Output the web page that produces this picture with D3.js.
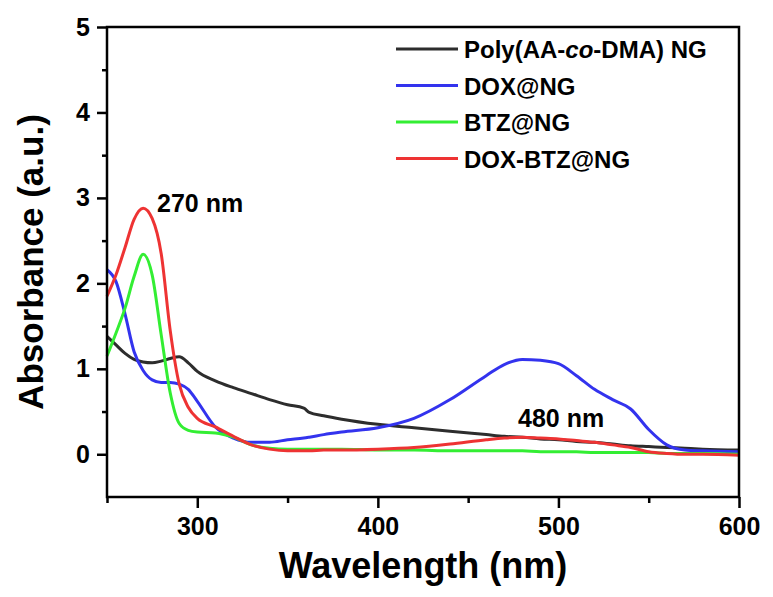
<!DOCTYPE html>
<html>
<head>
<meta charset="utf-8">
<script src="https://cdn.jsdelivr.net/npm/d3@7"></script>
<style>
  body { margin: 0; background: #fff; }
  text { font-family: Arial, "Liberation Sans", sans-serif; font-weight: bold; fill: #000; }
</style>
</head>
<body>
<svg id="chart" width="773" height="597"></svg>
<script>
// wavelength grid (nm) shared by all spectra
var wavelength = [250, 255, 260, 265, 270, 275, 280, 285, 290, 295, 300, 310, 320, 330, 340, 350, 359, 362,
  370, 380, 400, 420, 440, 460, 470, 480, 490, 500, 510, 520, 530, 540, 550, 560, 570, 580, 600];

var polyNG = [1.38, 1.28, 1.18, 1.11, 1.08, 1.07, 1.09, 1.12, 1.14, 1.07, 0.97, 0.86, 0.78, 0.71, 0.64, 0.58, 0.54, 0.49,
  0.45, 0.41, 0.35, 0.31, 0.27, 0.23, 0.21, 0.20, 0.18, 0.17, 0.15, 0.14, 0.12, 0.10, 0.09, 0.08, 0.07, 0.06, 0.05];
var doxNG = [2.16, 2.02, 1.64, 1.2, 0.98, 0.87, 0.84, 0.84, 0.82, 0.76, 0.62, 0.32, 0.19, 0.14, 0.14, 0.17, 0.19, 0.2,
  0.23, 0.26, 0.31, 0.42, 0.64, 0.92, 1.05, 1.11, 1.1, 1.06, 0.92, 0.76, 0.64, 0.53, 0.29, 0.11, 0.05, 0.04, 0.03];
var btzNG = [1.15, 1.42, 1.71, 2.08, 2.34, 2.1, 1.4, 0.72, 0.36, 0.28, 0.26, 0.25, 0.2, 0.11, 0.07, 0.06, 0.06, 0.06,
  0.06, 0.06, 0.05, 0.05, 0.04, 0.04, 0.04, 0.04, 0.03, 0.03, 0.03, 0.02, 0.02, 0.02, 0.02, 0.01, 0.01, 0.01, 0.0];
var doxBtzNG = [1.85, 2.1, 2.42, 2.75, 2.88, 2.76, 2.35, 1.45, 0.82, 0.55, 0.42, 0.32, 0.21, 0.11, 0.06, 0.04, 0.04, 0.04,
  0.05, 0.05, 0.06, 0.08, 0.12, 0.17, 0.19, 0.2, 0.19, 0.18, 0.16, 0.14, 0.11, 0.08, 0.03, 0.01, 0.0, 0.0, -0.01];

var seriesNames = ['Poly(AA-co-DMA) NG', 'DOX@NG', 'BTZ@NG', 'DOX-BTZ@NG'];
var seriesColors = ['#2d2d2d', '#3333ee', '#33ee33', '#ee3333'];
var seriesValues = [polyNG, doxNG, btzNG, doxBtzNG];

var xTicks = [300, 400, 500, 600];
var yTicks = [0, 1, 2, 3, 4, 5];

var svg = d3.select('#chart');

var xScale = d3.scaleLinear().domain([250, 600]).range([107, 739]);
var yScale = d3.scaleLinear().domain([-0.5, 5]).range([497, 27]);

// spectra
var line = d3.line()
  .x(d => xScale(d[0]))
  .y(d => yScale(d[1]))
  .curve(d3.curveMonotoneX);

for (var i = 0; i < seriesValues.length; i++) {
  var pts = wavelength.map((w, j) => [w, seriesValues[i][j]]);
  svg.append('path')
    .attr('d', line(pts))
    .attr('fill', 'none')
    .attr('stroke', seriesColors[i])
    .attr('stroke-width', 3)
    .attr('stroke-linejoin', 'round');
}

// frame
svg.append('rect')
  .attr('x', xScale(250)).attr('y', yScale(5))
  .attr('width', xScale(600) - xScale(250))
  .attr('height', yScale(-0.5) - yScale(5))
  .attr('fill', 'none').attr('stroke', '#000').attr('stroke-width', 2.5);

// axes
var xAxis = d3.axisBottom(xScale).tickValues(xTicks).tickSize(11).tickPadding(9).tickFormat(d3.format('d'));
var xMinor = d3.axisBottom(xScale).tickValues([250, 350, 450, 550]).tickSize(6).tickFormat('');
var yAxis = d3.axisLeft(yScale).tickValues(yTicks).tickSize(10).tickPadding(7).tickFormat(d3.format('d'));
var yMinor = d3.axisLeft(yScale).tickValues([0.5, 1.5, 2.5, 3.5, 4.5]).tickSize(5).tickFormat('');

[xAxis, xMinor].forEach(function(ax) {
  svg.append('g').attr('transform', `translate(0, ${yScale(-0.5)})`).call(ax);
});
[yAxis, yMinor].forEach(function(ax) {
  svg.append('g').attr('transform', `translate(${xScale(250)}, 0)`).call(ax);
});

svg.selectAll('.domain').remove();
svg.selectAll('.tick line').attr('stroke', '#000').attr('stroke-width', 2.5);
svg.selectAll('.tick text').style('font-size', '25px').style('font-family', 'Arial, "Liberation Sans", sans-serif').style('font-weight', 'bold');

// axis titles
svg.append('text')
  .attr('x', 423).attr('y', 578)
  .attr('text-anchor', 'middle')
  .style('font-size', '36px')
  .text('Wavelength (nm)');

svg.append('text')
  .attr('transform', 'translate(43, 262) rotate(-90)')
  .attr('text-anchor', 'middle')
  .style('font-size', '35px')
  .text('Absorbance (a.u.)');

// legend
var legend = svg.append('g');
for (var k = 0; k < seriesNames.length; k++) {
  var ly = 49 + k * 36.5;
  legend.append('line')
    .attr('x1', 396).attr('x2', 458).attr('y1', ly).attr('y2', ly)
    .attr('stroke', seriesColors[k]).attr('stroke-width', 3);
  var t = legend.append('text')
    .attr('x', 464).attr('y', ly + 9)
    .style('font-size', '24px');
  if (k == 0) {
    t.append('tspan').text('Poly(AA-');
    t.append('tspan').style('font-style', 'italic').text('co');
    t.append('tspan').text('-DMA) NG');
  } else {
    t.text(seriesNames[k]);
  }
}

// peak annotations
svg.append('text').attr('x', 157).attr('y', 212).style('font-size', '25px').text('270 nm');
svg.append('text').attr('x', 518).attr('y', 427).style('font-size', '25px').text('480 nm');
</script>
</body>
</html>
